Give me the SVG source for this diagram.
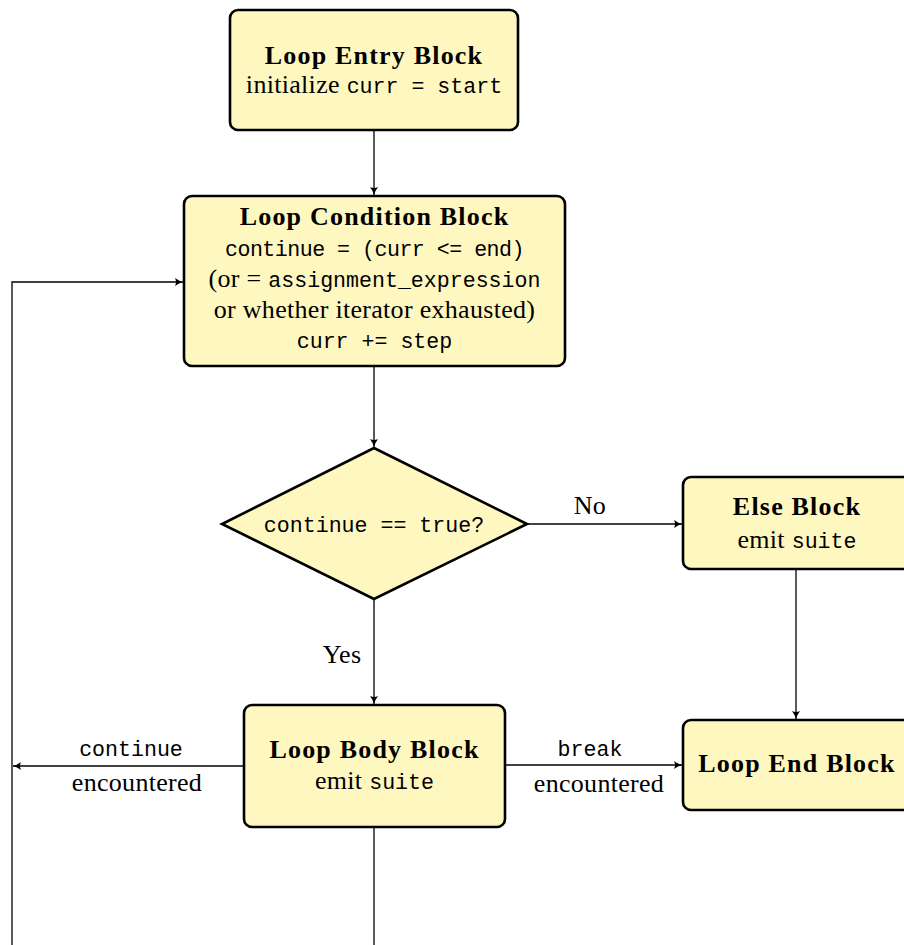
<svg xmlns="http://www.w3.org/2000/svg" width="904" height="945" viewBox="0 0 904 945">
<style>
.box{fill:#fff7c0;stroke:#000;stroke-width:2.6}
.edge{fill:none;stroke:#000;stroke-width:1.3}
.t{font-family:"Liberation Serif","Times New Roman",serif;font-size:26px;letter-spacing:0.3px;fill:#000;text-anchor:middle}
.b{font-weight:bold;letter-spacing:1.2px;font-size:26px}
.lab{font-family:"Liberation Serif","Times New Roman",serif;font-size:26px;letter-spacing:0.3px;fill:#000;text-anchor:middle}
.m,.lab.m,.t.m{font-family:"Liberation Mono","DejaVu Sans Mono",monospace;font-size:21.6px;letter-spacing:0}
.t.m.tight{letter-spacing:-0.5px}
</style>
<defs>
<marker id="ar" viewBox="-10 -5 12 10" refX="0" refY="0" markerWidth="12" markerHeight="10" markerUnits="userSpaceOnUse" orient="auto">
<path d="M-8,-4 Q-4,-1 0,0 Q-4,1 -8,4 Q-6,0 -8,-4 Z" fill="#000"/>
</marker>
</defs>
<rect width="904" height="945" fill="#fff"/>
<g id="connectors">
<path class="edge" d="M374,130 V195" marker-end="url(#ar)"/>
<path class="edge" d="M374,366 V447" marker-end="url(#ar)"/>
<path class="edge" d="M527,524 H682" marker-end="url(#ar)"/>
<path class="edge" d="M374,599 V704" marker-end="url(#ar)"/>
<path class="edge" d="M796,569 V719" marker-end="url(#ar)"/>
<path class="edge" d="M505,765 H682" marker-end="url(#ar)"/>
<path class="edge" d="M244,766 H13" marker-end="url(#ar)"/>
<path class="edge" d="M374,827 V945"/>
<path class="edge" d="M12,945 V282 H183" marker-end="url(#ar)"/>
<text class="lab" x="590" y="514">No</text>
<text class="lab" x="342" y="663">Yes</text>
<text class="lab m" x="131" y="756">continue</text>
<text class="lab" x="137" y="791">encountered</text>
<text class="lab m" x="590" y="756">break</text>
<text class="lab" x="599" y="792">encountered</text>
</g>
<g id="entry">
<rect class="box" x="230" y="10" width="288" height="120" rx="8"/>
<text class="t b" x="374" y="64">Loop Entry Block</text>
<text class="t" x="374" y="93">initialize <tspan class="m">curr = start</tspan></text>
</g>
<g id="condition">
<rect class="box" x="184" y="196" width="381" height="170" rx="8"/>
<text class="t b" x="374.5" y="225">Loop Condition Block</text>
<text class="t m tight" x="374.5" y="256">continue = (curr &lt;= end)</text>
<text class="t" x="374.5" y="287">(or = <tspan class="m">assignment_expression</tspan></text>
<text class="t" x="374.5" y="318">or whether iterator exhausted)</text>
<text class="t m" x="374.5" y="348">curr += step</text>
</g>
<g id="decision">
<polygon class="box" points="374,448 527,524 374,599 222,524"/>
<text class="t m" x="374" y="532">continue == true?</text>
</g>
<g id="else">
<rect class="box" x="683" y="477" width="230" height="92" rx="8"/>
<text class="t b" x="797" y="515">Else Block</text>
<text class="t" x="797" y="548">emit <tspan class="m">suite</tspan></text>
</g>
<g id="body">
<rect class="box" x="244" y="705" width="261" height="122" rx="8"/>
<text class="t b" x="374.5" y="758">Loop Body Block</text>
<text class="t" x="374.5" y="789">emit <tspan class="m">suite</tspan></text>
</g>
<g id="end">
<rect class="box" x="683" y="720" width="230" height="90" rx="8"/>
<text class="t b" x="797" y="772">Loop End Block</text>
</g>
</svg>
